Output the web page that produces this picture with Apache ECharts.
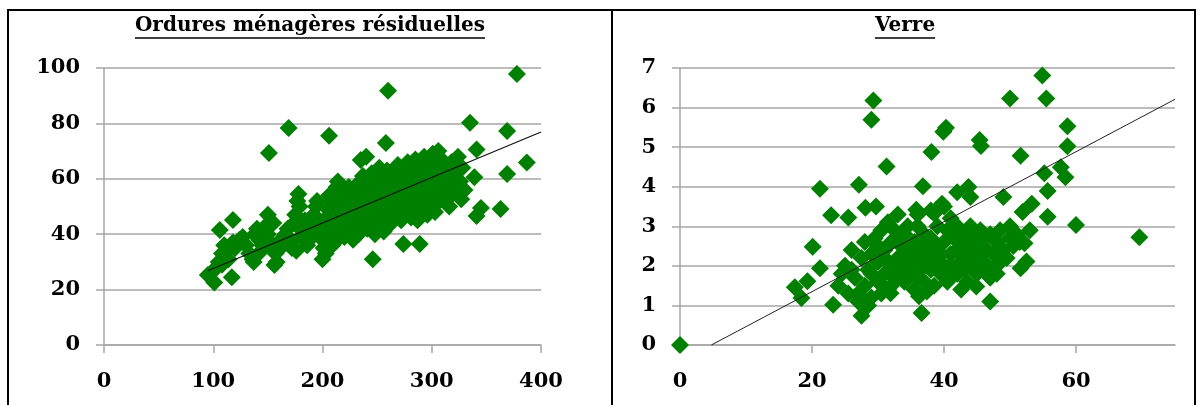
<!DOCTYPE html>
<html><head><meta charset="utf-8">
<script src="https://cdn.jsdelivr.net/npm/echarts@6/dist/echarts.min.js"></script>
<style>html,body{margin:0;padding:0;background:#fff}#c{width:1200px;height:405px}</style>
</head><body><div id="c"></div>
<script>
// ---- Data ----
const titleLeft = "Ordures ménagères résiduelles";
const titleRight = "Verre";
const xTicksLeft = [0, 100, 200, 300, 400];
const yTicksLeft = [0, 20, 40, 60, 80, 100];
const xTicksRight = [0, 20, 40, 60];
const yTicksRight = [0, 1, 2, 3, 4, 5, 6, 7];

const omrPoints = [
  [378,97.8],[260,91.8],[169,78.3],[206,75.5],[151,69.3],[258,72.9],[335,80.2],[369,77.3],[341,70.6],[387,65.9],
  [369,61.7],[339,60.6],[323,58],[327,52.6],[363,49.1],[341,46.6],[345,49.5],[289,36.5],[274,36.5],[246,31],
  [200,31],[118,45.1],[106,41.5],[95,25.3],[101,22.6],[117,24.5],[137,30],[156,28.9],[150,47],[235,66.8],
  [240,68],[178,54.5],
  [98,26],[103,28],[105,30],[108,33],[110,36],[112,34],[114,31],[118,37],[120,35],[124,38],[127,39],[130,36],[108,29],[115,35],
  [133,33],[136,31],[138,40],[140,42],[142,38],[145,36],[148,43],[150,40],[152,37],[155,44],[157,33],[158,30],[160,35],[144,34],
  [162,38],[164,36],[166,40],[168,42],[170,37],[172,35],[174,44],[175,47],[177,52],[179,50],[180,39],[182,41],[184,45],[186,36],[188,38],[190,43],[176,34],
  [192,47],[194,50],[195,52],[196,40],[198,44],[200,38],[201,35],[202,42],[204,46],[205,49],[206,54],[208,51],[210,40],[211,37],[212,44],[213,57],[214,59],[215,48],[216,52],[217,42],[218,46],[219,55],[220,39],[203,33],[209,36],
  [221,50],[222,53],[223,45],[224,57],[225,41],[226,48],[227,55],[228,38],[229,52],[230,44],[231,47],[232,58],[233,40],[234,50],[235,43],[236,54],[237,61],[238,46],[239,49],[240,56],[241,42],[242,52],[243,59],[244,45],[245,62],[246,48],[247,55],[248,40],[249,51],[250,58],
  [251,44],[252,64],[253,47],[254,53],[255,60],[256,41],[257,50],[258,56],[259,63],[260,46],[261,52],[262,58],[263,44],[264,49],[265,61],[266,55],[267,47],[268,53],[269,65],[270,50],[271,57],[272,45],[273,59],[274,52],[275,62],[276,48],[277,55],[278,66],[279,50],[280,58],
  [281,46],[282,53],[283,63],[284,49],[285,67],[286,56],[287,45],[288,60],[289,52],[290,65],[291,48],[292,57],[293,68],[294,51],[295,62],[296,47],[297,55],[298,66],[299,50],[300,59],[301,69],[302,53],[303,48],[304,63],[305,57],[306,70],[307,52],[308,61],[309,67],[310,55],
  [312,60],[314,64],[315,53],[317,58],[318,66],[320,62],[322,55],[324,68],[326,59],[328,64],[330,56],[316,50]
];
const omrTrend = [[95,26.8],[400,76.9]];

const verrePoints = [
  [54.9,6.81],[55.5,6.23],[50.0,6.23],[29.3,6.18],[29.0,5.69],[40.3,5.49],[39.9,5.39],[58.7,5.53],[58.7,5.02],[45.4,5.18],
  [45.6,5.03],[38.1,4.88],[51.6,4.78],[31.3,4.51],[55.2,4.34],[57.7,4.49],[58.4,4.24],[55.7,3.89],[21.2,3.95],[27.1,4.05],
  [36.8,4.01],[49.0,3.74],[55.7,3.24],[60.0,3.03],[69.6,2.72],[22.9,3.28],[25.5,3.22],[28.1,3.47],[29.7,3.50],[35.8,3.42],
  [20.1,2.48],[17.4,1.46],[18.4,1.19],[19.3,1.61],[23.2,1.02],[27.5,0.74],[36.6,0.81],[47.0,1.10],[0,0],[21.2,1.94],
  [51.6,1.94],[52.5,2.11],[52.2,2.57],[53.0,2.9],[51.9,3.36],[53.3,3.57],[49.0,2.23],[46.7,1.81],[42.6,1.40],[44.9,1.48],
  [31.9,1.31],[36.2,1.23],[37.4,1.35],[42.0,3.86],[43.7,3.99],[44.0,3.74],[39.7,3.57],[38.5,3.32],
  [24,1.5],[24.5,1.8],[25,2.0],[25.5,1.3],[26,2.4],[26.5,1.7],[27,1.1],[27.5,2.2],[28,1.5],[28,2.6],[28.5,1.9],[29,2.3],[29,1.2],[29.5,2.7],
  [30,1.6],[30,2.1],[30.5,2.9],[31,1.8],[31,2.4],[31.5,1.4],[31.5,3.1],[32,2.0],[32,2.6],[32.5,1.7],[32.5,2.9],[33,2.2],[33,3.3],[33.5,1.9],[33.5,2.5],
  [34,1.6],[34,2.8],[34.5,2.1],[34.5,3.0],[35,2.4],[35,1.8],[35.5,2.6],[35.5,1.4],[36,2.2],[36,3.0],[36.5,1.9],[36.5,2.5],[37,2.8],[37,1.6],[37.5,2.1],[37.5,2.4],
  [38,1.9],[38,2.7],[38.5,2.2],[38.5,1.5],[39,2.5],[39,3.0],[39.5,1.8],[39.5,2.3],[40,2.6],[40,2.0],[40.5,1.6],[40.5,2.9],[41,2.3],[41,2.0],[41.5,2.7],[41.5,1.8],
  [42,2.4],[42,3.0],[42.5,2.1],[42.5,2.6],[43,1.9],[43,2.8],[43.5,2.3],[43.5,1.6],[44,2.5],[44,3.0],[44.5,2.0],[44.5,2.7],[45,2.3],[45,1.8],[45.5,2.9],[45.5,2.5],
  [46,2.1],[46,2.7],[46.5,2.4],[47,1.7],[47,2.8],[47.5,2.3],[48,2.6],[48,2.0],[48.5,2.9],[49,2.4],[49.5,2.2],[50,2.7],[50,3.0],[50.5,2.5],[51,2.8],[51.5,2.6],
  [36,3.3],[38,3.4],[40,3.5],[41,3.2],[33,2.0],[34,2.3],[35,2.1],[37,2.3],[38,2.0],[39,2.1],[36,1.7],[30,2.5],[29,1.8],[27,1.3],[26,1.9],
  [44,2.2],[42,1.8],[43,2.0],[46,1.9],[48,1.8],[31,2.2],[32,1.5],[33,2.7],[30.5,1.3],[28.5,1.0]
];
const verreTrend = [[4.75,0],[75,6.21]];

// ---- Styles ----
const GREEN = '#008000';
const GRID = '#a6a6a6';
const FONT = 'DejaVu Serif';
const labelFont = {fontFamily: FONT, fontWeight: 'bold', fontSize: 21, color: '#000'};

function measure(text, font) {
  const c = document.createElement('canvas').getContext('2d');
  c.font = font; return c.measureText(text).width;
}
const titleFont = 'bold 20px "DejaVu Serif"';
function titleEls(text, cx) {
  const w = measure(text, titleFont);
  return [
    {type: 'text', x: cx, y: 26, style: {text, font: titleFont, fill: '#000', align: 'center', verticalAlign: 'middle'}},
    {type: 'line', shape: {x1: cx - w/2, y1: 38, x2: cx + w/2, y2: 38}, style: {stroke: '#000', lineWidth: 1.5}}
  ];
}

function valAxis(gi, min, max, interval, ticks, isX) {
  return {
    type: 'value', gridIndex: gi, min, max, interval,
    axisLine: {show: true, onZero: false, lineStyle: {color: GRID, width: 1.5}},
    axisTick: {show: true, inside: false, length: 8, customValues: ticks, lineStyle: {color: GRID, width: 1.5}},
    axisLabel: Object.assign({margin: isX ? 26 : 24, customValues: ticks}, labelFont),
    splitLine: {show: !isX, lineStyle: {color: GRID, width: 1.5}}
  };
}

const chart = echarts.init(document.getElementById('c'));
chart.setOption({
  animation: false,
  grid: [
    {left: 104, top: 68, width: 437, height: 277},
    {left: 680, top: 68, width: 495, height: 277}
  ],
  xAxis: [
    valAxis(0, 0, 400, 100, xTicksLeft, true),
    valAxis(1, 0, 75, 20, xTicksRight, true)
  ],
  yAxis: [
    valAxis(0, 0, 100, 20, yTicksLeft, false),
    valAxis(1, 0, 7, 1, yTicksRight, false)
  ],
  series: [
    {type: 'scatter', xAxisIndex: 0, yAxisIndex: 0, data: omrPoints, symbol: 'diamond', symbolSize: 18, itemStyle: {color: GREEN, opacity: 1}},
    {type: 'line', xAxisIndex: 0, yAxisIndex: 0, data: omrTrend, symbol: 'none', lineStyle: {color: '#111', width: 1.2}, z: 5},
    {type: 'scatter', xAxisIndex: 1, yAxisIndex: 1, data: verrePoints, symbol: 'diamond', symbolSize: 18, itemStyle: {color: GREEN, opacity: 1}},
    {type: 'line', xAxisIndex: 1, yAxisIndex: 1, data: verreTrend, symbol: 'none', lineStyle: {color: '#222', width: 1}, z: 5}
  ],
  graphic: [
    {type: 'rect', shape: {x: 8, y: 10, width: 604, height: 420}, style: {fill: null, stroke: '#000', lineWidth: 2}},
    {type: 'rect', shape: {x: 612, y: 10, width: 583, height: 420}, style: {fill: null, stroke: '#000', lineWidth: 2}},
    ...titleEls(titleLeft, 310),
    ...titleEls(titleRight, 905)
  ]
});
</script></body></html>
